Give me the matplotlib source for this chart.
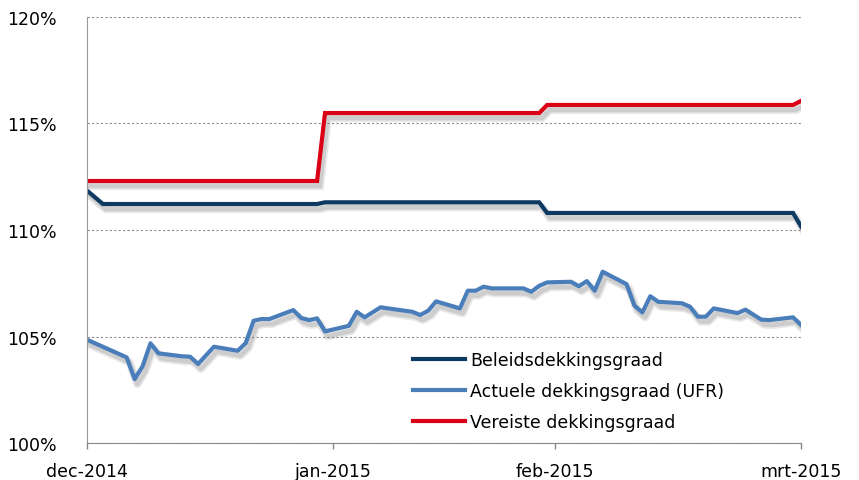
import numpy as np
import pandas as pd
import matplotlib
matplotlib.use("Agg")
import matplotlib.pyplot as plt
import matplotlib.patheffects as pe

# startdatum van de reeks (dagnummers tellen vanaf hier)
start = pd.Timestamp("2014-12-31")

# actuele dekkingsgraad (UFR)
actueel_dag = [0, 5, 6, 7, 8, 9, 12, 13, 14, 16, 19, 20, 21, 22, 23, 26, 27, 28,
               29, 30, 33, 34, 35, 37, 41, 42, 43, 44, 47, 48, 49, 50, 51, 55,
               56, 57, 58, 61, 62, 63, 64, 65, 68, 69, 70, 71, 72, 75, 76, 77,
               78, 79, 82, 83, 85, 86, 89, 90]
actueel = [104.85, 104.02, 103.00, 103.60, 104.68, 104.21, 104.07, 104.05,
           103.71, 104.52, 104.33, 104.69, 105.74, 105.82, 105.82, 106.24,
           105.87, 105.77, 105.85, 105.24, 105.50, 106.16, 105.90, 106.37,
           106.16, 106.01, 106.21, 106.65, 106.32, 107.15, 107.15, 107.34,
           107.26, 107.26, 107.10, 107.38, 107.54, 107.57, 107.36, 107.60,
           107.15, 108.04, 107.46, 106.45, 106.13, 106.89, 106.63, 106.56,
           106.40, 105.93, 105.93, 106.32, 106.10, 106.26, 105.79, 105.77,
           105.90, 105.54]

# beleidsdekkingsgraad
beleid_dag = [0, 2, 29, 30, 57, 58, 89, 90]
beleid = [111.85, 111.22, 111.22, 111.30, 111.30, 110.80, 110.80, 110.17]

# vereiste dekkingsgraad
vereist_dag = [0, 29, 30, 57, 58, 89, 90]
vereist = [112.30, 112.30, 115.49, 115.49, 115.87, 115.87, 116.06]

labels = ["Beleidsdekkingsgraad", "Actuele dekkingsgraad (UFR)",
          "Vereiste dekkingsgraad"]
tick_dag = [0, 31, 59, 90]
tick_labels = ["dec-2014", "jan-2015", "feb-2015", "mrt-2015"]
y_ticks = [100, 105, 110, 115, 120]


def to_dates(days):
    return start + pd.to_timedelta(days, unit="D")


plt.rcParams["font.family"] = ["DejaVu Sans"]
fig = plt.figure(figsize=(8.59, 4.81), dpi=100)
ax = fig.add_axes([0.1013, 0.0769, 0.8312, 0.8857])

shadow = [pe.SimpleLineShadow(offset=(2, -3.5), shadow_color="#808080",
                              alpha=0.18, linewidth=6),
          pe.SimpleLineShadow(offset=(2, -3.5), shadow_color="#808080",
                              alpha=0.25, linewidth=3.5),
          pe.Normal()]

l1, = ax.plot(to_dates(beleid_dag), beleid, color="#0E3A62", lw=3,
              solid_joinstyle="miter", path_effects=shadow)
l2, = ax.plot(to_dates(actueel_dag), actueel, color="#4A7EBB", lw=3,
              solid_joinstyle="round", path_effects=shadow)
l3, = ax.plot(to_dates(vereist_dag), vereist, color="#DA0016", lw=3,
              solid_joinstyle="miter", path_effects=shadow)

ax.set_xlim(to_dates([0])[0], to_dates([90])[0])
ax.set_ylim(100, 120)

ax.set_xticks(to_dates(tick_dag))
ax.set_xticklabels(tick_labels)
ax.set_yticks(y_ticks)
ax.set_yticklabels(["{}%".format(v) for v in y_ticks])

ax.tick_params(axis="x", length=4, width=1, color="#888888", pad=10,
               labelsize=12.5, direction="out")
ax.tick_params(axis="y", length=0, pad=22, labelsize=12.5)

for s in ["top", "right"]:
    ax.spines[s].set_visible(False)
ax.spines["left"].set_color("#999999")
ax.spines["bottom"].set_color("#888888")
ax.spines["bottom"].set_linestyle((0, (2, 1)))

ax.grid(axis="y", color="#8c8c8c", linestyle=(0, (2, 2)), linewidth=0.8)
ax.set_axisbelow(True)

leg = fig.legend([l1, l2, l3], labels, loc="center left",
                 bbox_to_anchor=(0.481, 0.185), frameon=False,
                 fontsize=12.5, handlelength=3.0, handletextpad=0.3,
                 labelspacing=0.75, borderpad=0, borderaxespad=0)
for h in leg.get_lines():
    h.set_linewidth(3)
    h.set_path_effects([])

fig.savefig("out.png", dpi=100)
